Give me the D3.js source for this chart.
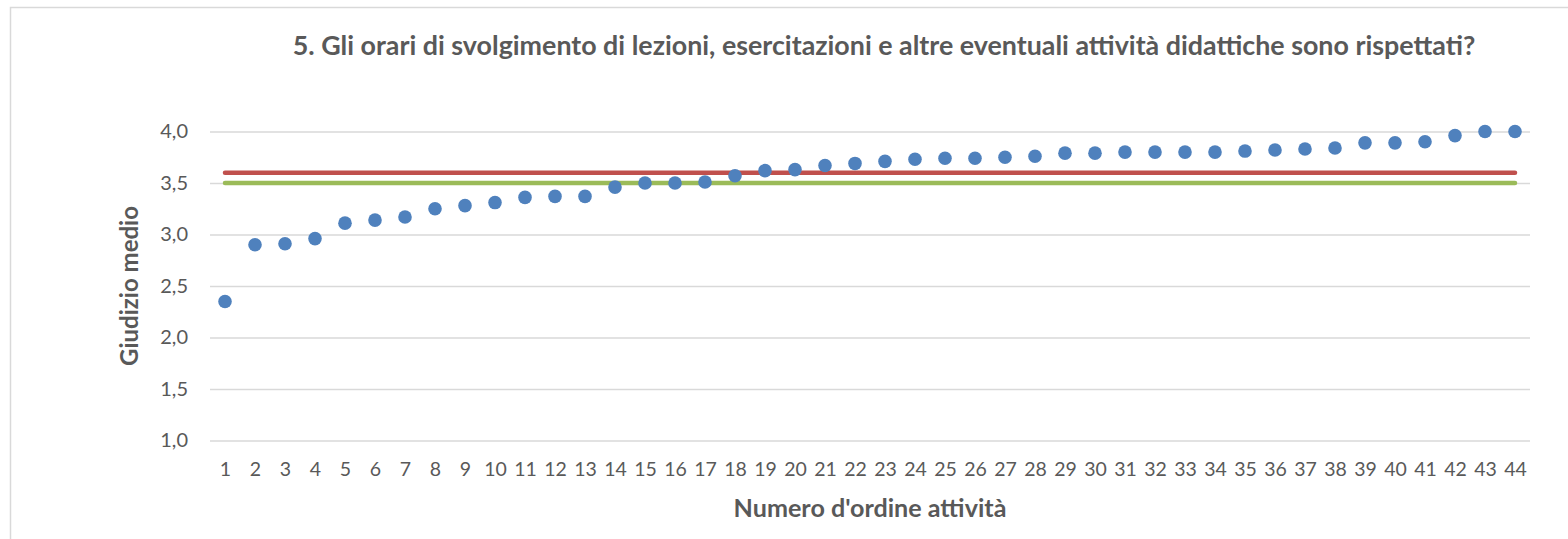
<!doctype html>
<html lang="it">
<head>
<meta charset="utf-8">
<title>Giudizio medio</title>
<style>
  html, body { margin: 0; padding: 0; background: #fff; overflow: hidden; }
  svg { display: block; }
  text { font-family: Lato, "Open Sans", sans-serif; fill: #595959; }
</style>
</head>
<body>
<svg id="chart" width="1568" height="539"></svg>
<script src="https://cdn.jsdelivr.net/npm/d3@7"></script>
<script>
// data
const activities = d3.range(1, 45);
const scores = [2.35, 2.90, 2.91, 2.96, 3.11, 3.14, 3.17, 3.25, 3.28, 3.31,
                3.36, 3.37, 3.37, 3.46, 3.50, 3.50, 3.51, 3.57, 3.62, 3.63,
                3.67, 3.69, 3.71, 3.73, 3.74, 3.74, 3.75, 3.76, 3.79, 3.79,
                3.80, 3.80, 3.80, 3.80, 3.81, 3.82, 3.83, 3.84, 3.89, 3.89,
                3.90, 3.96, 4.00, 4.00];
const refRed = 3.6;
const refGreen = 3.5;
const yTicks = [1.0, 1.5, 2.0, 2.5, 3.0, 3.5, 4.0];

const titleText = "5. Gli orari di svolgimento di lezioni, esercitazioni e altre eventuali attività didattiche sono rispettati?";
const xTitle = "Numero d'ordine attività";
const yTitle = "Giudizio medio";

const svg = d3.select("#chart");
const plot = { left: 210, right: 1530, top: 131.5, bottom: 440.5 };

const x = d3.scalePoint()
    .domain(activities)
    .range([plot.left, plot.right])
    .padding(0.5);

const y = d3.scaleLinear()
    .domain([1, 4])
    .range([plot.bottom, plot.top]);

// scale text to a measured width
function fit(sel, width) {
    let size = parseFloat(sel.attr("font-size"));
    let w = sel.node().getComputedTextLength();
    sel.attr("font-size", size * width / w);
}

// frame
svg.append("path")
    .attr("d", "M10.5,539V7.5H1568")
    .attr("fill", "none")
    .attr("stroke", "#d9d9d9")
    .attr("stroke-width", 1.5);

// grid lines + y labels
const yAxis = d3.axisLeft(y)
    .tickValues(yTicks)
    .tickSize(-(plot.right - plot.left))
    .tickPadding(22)
    .tickFormat(d => d3.format(".1f")(d).replace(".", ","));

const gy = svg.append("g")
    .attr("transform", `translate(${plot.left},0)`)
    .call(yAxis);
gy.select(".domain").remove();
gy.selectAll(".tick line").attr("stroke", "#d9d9d9").attr("stroke-width", 1.3);
gy.selectAll(".tick text")
    .attr("font-size", 20)
    .attr("fill", "#595959")
    .style("font-family", "Lato, sans-serif");

// x labels
const xAxis = d3.axisBottom(x).tickSize(0).tickPadding(22);
const gx = svg.append("g")
    .attr("transform", `translate(0,${plot.bottom})`)
    .call(xAxis);
gx.select(".domain").remove();
gx.selectAll(".tick text")
    .attr("font-size", 19.5)
    .attr("fill", "#595959")
    .style("font-family", "Lato, sans-serif");

// reference lines
const refs = [{ v: refGreen, c: "#9bbb59" }, { v: refRed, c: "#c0504d" }];
svg.selectAll(".ref")
    .data(refs)
    .enter().append("line")
    .attr("class", "ref")
    .attr("x1", x(activities[0]))
    .attr("x2", x(activities[activities.length - 1]))
    .attr("y1", d => y(d.v))
    .attr("y2", d => y(d.v))
    .attr("stroke", d => d.c)
    .attr("stroke-width", 4.5)
    .attr("stroke-linecap", "round");

// points
svg.selectAll(".pt")
    .data(scores)
    .enter().append("circle")
    .attr("class", "pt")
    .attr("cx", (d, i) => x(activities[i]))
    .attr("cy", d => y(d))
    .attr("r", 6.8)
    .attr("fill", "#4f81bd");

// titles
const t = svg.append("text")
    .attr("x", 884)
    .attr("y", 55)
    .attr("text-anchor", "middle")
    .attr("font-size", 17)
    .attr("font-weight", "bold")
    .text(titleText);
fit(t, 1183);

const xt = svg.append("text")
    .attr("x", 870)
    .attr("y", 517)
    .attr("text-anchor", "middle")
    .attr("font-size", 18)
    .attr("font-weight", "bold")
    .text(xTitle);
fit(xt, 273);

const yt = svg.append("text")
    .attr("transform", "translate(138,286) rotate(-90)")
    .attr("text-anchor", "middle")
    .attr("font-size", 18)
    .attr("font-weight", "bold")
    .text(yTitle);
fit(yt, 160);
</script>
</body>
</html>
